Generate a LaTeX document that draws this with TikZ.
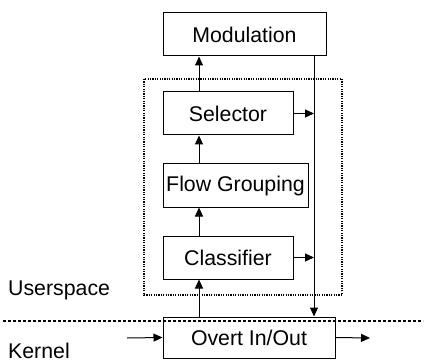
\documentclass[tikz,border=0pt]{standalone}
\usepackage{fontspec}
\setmainfont{Liberation Sans}
\usetikzlibrary{arrows.meta}
\begin{document}
\begin{tikzpicture}[x=1pt,y=-1pt,
  box/.style={draw,line width=1pt,minimum height=43pt,inner sep=0pt,font=\fontsize{21.3}{25}\selectfont},
  arr/.style={line width=1pt,-{Triangle[length=9pt,width=8pt]}},
  lbl/.style={anchor=base west,inner sep=0pt,font=\fontsize{21.3}{25}\selectfont}]
\useasboundingbox (0,0) rectangle (427,363);
\node[box,minimum width=163pt] (mod) at (244.5,34.5) {Modulation};
\node[box,minimum width=130pt] (sel) at (228,113.5) {Selector};
\node[box,minimum width=145pt] (flow) at (235.5,185.5) {Flow Grouping};
\node[box,minimum width=130pt] (cls) at (228,257.5) {Classifier};
\node[box,minimum width=172pt,minimum height=41pt] (overt) at (249,337.5) {Overt In/Out};
\draw[line width=2pt,dash pattern=on 1.2pt off 1.2pt] (144,79) rectangle (342,295);
\coordinate (dl) at (3,321);
\coordinate (dr) at (423,321);
\draw[line width=2.5pt,dash pattern=on 3pt off 2pt] (dl) -- (dr);
\coordinate (ax) at (199,0);
\coordinate (vx) at (314,0);
\draw[arr] (sel.north -| ax) -- (mod.south -| ax);
\draw[arr] (flow.north -| ax) -- (sel.south -| ax);
\draw[arr] (cls.north -| ax) -- (flow.south -| ax);
\draw[arr] (overt.north -| ax) -- (cls.south -| ax);
\draw[arr] (mod.south -| vx) -- (overt.north -| vx);
\draw[arr] (sel.east) -- (sel.east -| vx);
\draw[arr] (cls.east) -- (cls.east -| vx);
\coordinate (in) at (127,338);
\coordinate (out) at (370,338);
\draw[arr] (in) -- (overt.west);
\draw[arr] (overt.east) -- (out);
\node[lbl] (us) at (8,295) {Userspace};
\node[lbl] (kn) at (8,358) {Kernel};
\end{tikzpicture}
\end{document}
